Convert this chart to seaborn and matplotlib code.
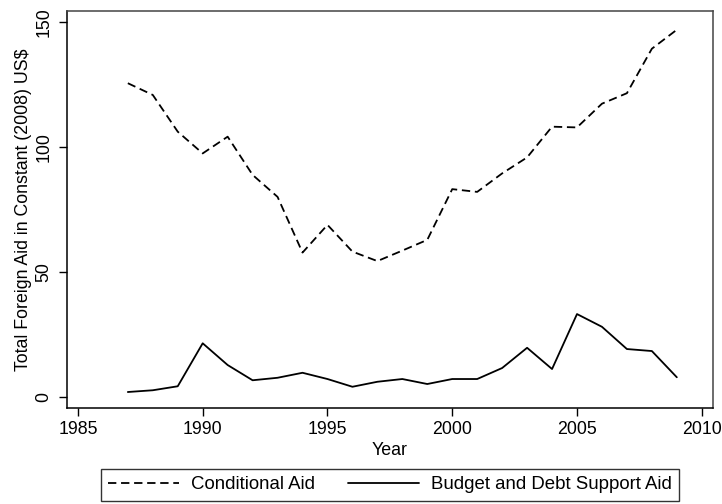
import matplotlib
matplotlib.use("Agg")
import matplotlib.pyplot as plt
import seaborn as sns
import pandas as pd

years = list(range(1987, 2010))
conditional_aid = [125.5, 120.8, 106.1, 97.4, 104.1, 88.8, 80.0, 57.7, 68.8, 58.1,
                   54.3, 58.5, 62.8, 83.1, 82.0, 89.4, 95.8, 108.1, 107.8, 117.3,
                   121.5, 139.3, 146.9]
budget_debt_aid = [1.9, 2.6, 4.2, 21.4, 12.7, 6.6, 7.6, 9.6, 7.1, 4.0,
                   6.0, 7.1, 5.1, 7.1, 7.1, 11.5, 19.6, 11.1, 33.1, 28.0,
                   19.1, 18.3, 7.8]
series_names = ["Conditional Aid", "Budget and Debt Support Aid"]
x_ticks = [1985, 1990, 1995, 2000, 2005, 2010]
y_ticks = [0, 50, 100, 150]

df = pd.DataFrame({
    "Year": years * 2,
    "Aid": conditional_aid + budget_debt_aid,
    "Series": [series_names[0]] * len(years) + [series_names[1]] * len(years),
})

sns.set_style("ticks")
plt.rcParams["font.family"] = ["Liberation Sans", "DejaVu Sans"]
plt.rcParams["lines.scale_dashes"] = False
plt.rcParams["text.color"] = "black"
plt.rcParams["axes.labelcolor"] = "black"
plt.rcParams["xtick.color"] = "black"
plt.rcParams["ytick.color"] = "black"

fig = plt.figure(figsize=(7.22, 5.04), dpi=100)
ax = fig.add_axes([66.7 / 722, 1 - 408 / 504, (713 - 66.7) / 722, (408 - 11) / 504])

sns.lineplot(
    data=df, x="Year", y="Aid", hue="Series", style="Series",
    palette={series_names[0]: "black", series_names[1]: "black"},
    dashes={series_names[0]: (6, 3.4), series_names[1]: ""},
    linewidth=1.3, ax=ax, legend=False,
)

ax.set_xlim(1984.55, 2010.45)
ax.set_ylim(-4.5, 154.4)
ax.set_xticks(x_ticks)
ax.set_yticks(y_ticks)
ax.tick_params(axis="both", direction="out", length=5.8, width=1, colors="black",
               labelcolor="black", labelsize=12.8)
ax.tick_params(axis="y", pad=4.3)
ax.tick_params(axis="x", pad=3.5)
for lab in ax.get_yticklabels():
    lab.set_rotation(90)
    lab.set_va("center")
ax.set_xlabel("Year", fontsize=12.8, labelpad=3, color="black")
ax.set_ylabel("Total Foreign Aid in Constant (2008) US$", fontsize=12.8,
              labelpad=3, color="black")

for side in ["left", "bottom"]:
    ax.spines[side].set_color("black")
    ax.spines[side].set_linewidth(1.1)
for side in ["top", "right"]:
    ax.spines[side].set_visible(True)
    ax.spines[side].set_color("#444444")
    ax.spines[side].set_linewidth(1.1)

handles = [
    plt.Line2D([], [], color="black", linewidth=1.3, dashes=(6, 3.4)),
    plt.Line2D([], [], color="black", linewidth=1.3),
]
leg = fig.legend(
    handles, series_names, loc="upper center",
    bbox_to_anchor=(390 / 722, 1 - 469 / 504), ncol=2, fontsize=13.4,
    frameon=True, fancybox=False, shadow=False, edgecolor="black",
    handlelength=3.8, handletextpad=0.65, columnspacing=1.8, borderpad=0.4,
    borderaxespad=0,
)
leg.get_frame().set_linewidth(1.0)
for t in leg.get_texts():
    t.set_color("black")

fig.savefig("out.png", dpi=100, facecolor="white")
